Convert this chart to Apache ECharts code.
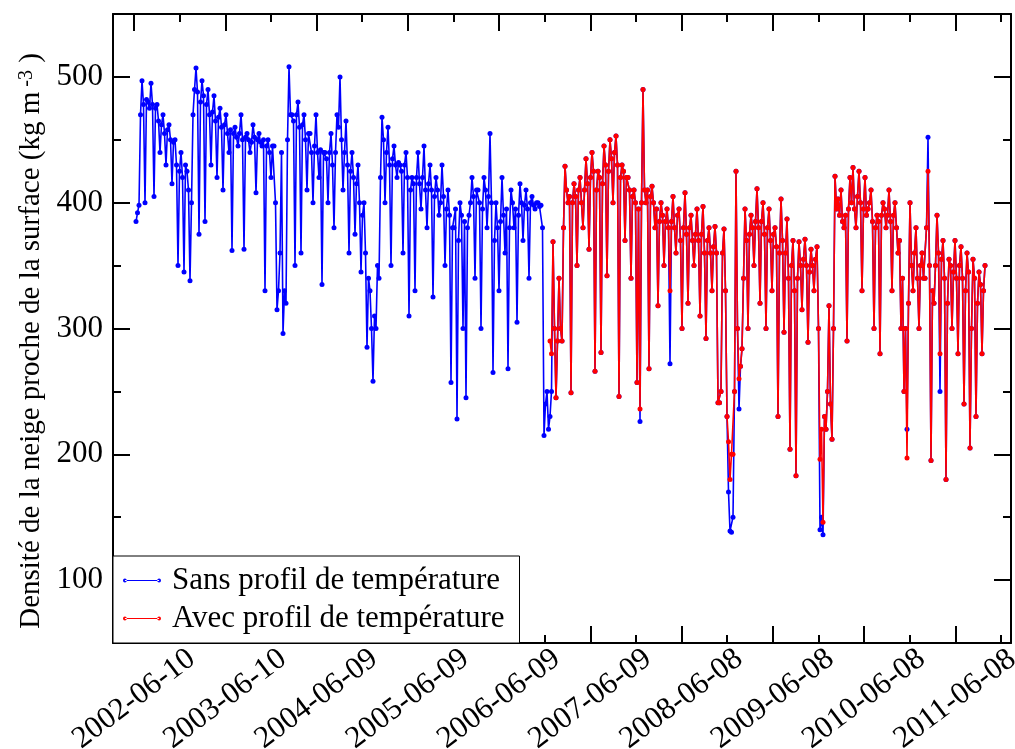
<!DOCTYPE html>
<html><head><meta charset="utf-8">
<script src="https://cdn.jsdelivr.net/npm/echarts@6/dist/echarts.min.js"></script>
<style>html,body{margin:0;padding:0;background:#fff}#c{width:1015px;height:749px}</style>
</head><body><div id="c"></div>
<script>
const tickLabels = ['2002-06-10','2003-06-10','2004-06-09','2005-06-09','2006-06-09','2007-06-09','2008-06-08','2009-06-08','2010-06-08','2011-06-08'];
const yTickLabels = [100, 200, 300, 400, 500];
const seriesNames = ['Sans profil de température', 'Avec profil de température'];
const yTitle = 'Densité de la neige proche de la surface (kg m{sup| -3} )';
const blueStart = '2002-06-18';
const redStart = '2006-12-30';
const stepDays = 6;
const blueValues = [
385,392,398,470,497,478,400,482,480,475,495,478,405,475,478,465,440,462,470,455,430,458,462,450,415,448,450,430,350,425,440,420,345,430,425,410,338,400,470,490,507,488,375,480,497,485,385,478,
490,470,430,472,485,465,420,468,475,460,410,462,470,455,440,458,362,455,460,452,445,455,470,450,363,452,455,450,440,448,462,452,408,450,455,448,445,450,330,445,450,440,420,445,445,400,315,330,360,440,296,330,320,450,508,470,470,465,350,470,480,460,360,462,470,450,410,455,
455,440,400,445,470,440,420,442,335,440,440,435,400,440,455,430,380,440,470,460,500,450,410,440,465,430,360,425,440,420,375,415,430,400,345,390,400,360,285,340,330,300,258,310,300,350,340,420,468,450,400,440,460,430,350,435,445,430,420,432,430,425,360,430,440,420,310,410,420,415,330,420,
440,415,395,420,445,410,380,415,430,410,325,405,420,410,390,400,430,405,350,395,410,390,257,380,380,395,228,370,400,390,300,385,245,380,390,400,420,405,340,410,410,400,300,395,420,410,380,405,455,400,265,370,400,380,330,385,420,390,360,395,268,380,410,400,380,395,305,390,415,400,370,398,410,395,340,400,405,398,395,400,400,397,398,380,215,240,250,220,
230,250,
369,300,245,290,340,300,290,380,429,410,400,405,249,400,415,405,350,410,420,400,380,410,435,415,363,420,440,425,266,410,425,420,281,415,445,430,342,425,450,435,400,440,453,430,246,420,430,425,370,420,420,410,340,405,410,400,257,395,226,400,490,410,400,410,268,405,413,400,380,395,318,385,400,390,350,385,395,380,272,385,
405,380,360,390,395,370,300,380,408,375,320,380,390,370,350,375,395,370,310,375,397,360,292,370,380,360,330,365,381,360,241,241,250,360,379,330,230,170,139,138,150,250,425,300,236,270,284,340,395,370,300,375,390,380,350,385,411,380,320,385,400,375,300,380,395,370,330,375,380,365,230,360,403,370,297,360,387,340,204,350,
370,330,183,340,369,350,315,355,371,350,289,345,363,350,330,355,365,300,140,150,136,230,220,250,318,240,212,300,421,395,403,390,410,385,380,390,290,395,420,400,428,395,380,405,425,400,330,395,420,390,395,400,410,385,300,380,390,385,280,390,400,395,380,390,410,385,330,390,400,380,360,370,300,340,250,300,220,320,400,350,
330,360,380,340,300,350,360,340,340,380,452,350,195,330,320,350,390,360,250,355,370,340,180,320,355,350,300,345,370,340,280,350,365,340,240,330,360,345,205,300,355,340,230,320,345,335,280,330,350
];
const redValues = [
290,280,
369,300,245,290,340,300,290,380,429,410,400,405,249,400,415,405,350,410,420,400,380,410,435,415,363,420,440,425,266,410,425,420,281,415,445,430,342,425,450,435,400,440,453,430,246,420,430,425,370,420,420,410,340,405,410,400,257,395,236,400,490,410,400,410,268,405,413,400,380,395,318,385,400,390,350,385,395,380,330,385,
405,380,360,390,395,370,300,380,408,375,320,380,390,370,350,375,395,370,310,375,397,360,292,370,380,360,330,365,381,360,241,241,250,360,379,330,230,210,180,200,200,250,425,300,260,270,284,340,395,370,300,375,390,380,350,385,411,380,320,385,400,375,300,380,395,370,330,375,380,365,230,360,403,370,297,360,387,340,204,350,
370,330,183,340,369,350,315,355,371,350,289,345,363,350,330,355,365,300,196,220,146,230,220,250,318,240,212,300,421,395,403,390,410,385,380,390,290,395,420,400,428,395,380,405,425,400,330,395,420,390,395,400,410,385,300,380,390,385,280,390,400,395,380,390,410,385,330,390,400,380,360,370,300,340,250,300,197,320,400,350,
330,360,380,340,300,350,360,340,340,380,425,350,195,330,320,350,390,360,280,355,370,340,180,320,355,350,300,345,370,340,280,350,365,340,240,330,360,345,205,300,355,340,230,320,345,335,280,330,350
];
const xMinDate = '2002-03-18';
const xMaxDate = '2012-01-17';

const DAY = 86400000;
const toMs = s => Date.parse(s + 'T00:00:00Z');
const majors = tickLabels.map(toMs);
const minors = majors.map(v => v + 182.5 * DAY);
const xMin = toMs(xMinDate), xMax = toMs(xMaxDate);
const mk = (start, vals) => vals.map((v, i) => [toMs(start) + i * stepDays * DAY, v]);
const fmtDate = v => { const idx = majors.indexOf(v); return idx >= 0 ? tickLabels[idx] : ''; };

const FONT = 'Liberation Serif';
const black = { color: '#000', width: 2 };
const xBase = { type: 'value', min: xMin, max: xMax, splitLine: { show: false }, axisLabel: { show: false }, axisLine: { show: false, onZero: false } };
const yBase = { type: 'value', min: 50, max: 550, splitLine: { show: false }, axisLabel: { show: false }, axisLine: { show: false, onZero: false } };
const yMinors = [150, 250, 350, 450];

const chart = echarts.init(document.getElementById('c'), null, { renderer: 'canvas' });
chart.setOption({
  animation: false,
  backgroundColor: '#fff',
  grid: { left: 113, right: 4, top: 14, bottom: 106, containLabel: false, outerBoundsMode: 'none' },
  legend: {
    orient: 'vertical', left: 113, bottom: 106,
    data: seriesNames,
    icon: 'path://M0,4a2,2 0 1,0 4,0a2,2 0 1,0 -4,0Z M36,4a2,2 0 1,0 4,0a2,2 0 1,0 -4,0Z M2,3.4L38,3.4L38,4.6L2,4.6Z',
    itemWidth: 38, itemHeight: 7, itemGap: 7,
    padding: [9, 15, 9, 10],
    backgroundColor: '#fff', borderColor: '#000', borderWidth: 1, borderRadius: 0,
    textStyle: { fontFamily: FONT, fontSize: 31, color: '#000', padding: [0, 0, 0, 6] }
  },
  xAxis: [
    Object.assign({}, xBase, { position: 'bottom',
      axisLine: { show: true, onZero: false, lineStyle: black },
      axisTick: { show: true, inside: true, length: 17, customValues: majors, lineStyle: black },
      axisLabel: { show: true, customValues: majors, rotate: 37, align: 'center', verticalAlign: 'middle', margin: 56,
        fontFamily: FONT, fontSize: 31, color: '#000', formatter: fmtDate, hideOverlap: false } }),
    Object.assign({}, xBase, { position: 'bottom',
      axisTick: { show: true, inside: true, length: 8, customValues: minors, lineStyle: black } }),
    Object.assign({}, xBase, { position: 'top',
      axisLine: { show: true, onZero: false, lineStyle: black },
      axisTick: { show: true, inside: true, length: 17, customValues: majors, lineStyle: black } }),
    Object.assign({}, xBase, { position: 'top',
      axisTick: { show: true, inside: true, length: 8, customValues: minors, lineStyle: black } })
  ],
  yAxis: [
    Object.assign({}, yBase, { position: 'left',
      axisLine: { show: true, onZero: false, lineStyle: black },
      axisTick: { show: true, inside: true, length: 17, customValues: yTickLabels, lineStyle: black },
      axisLabel: { show: true, customValues: yTickLabels, margin: 10, fontFamily: FONT, fontSize: 31, color: '#000' },
      name: yTitle, nameLocation: 'middle', nameGap: 64,
      nameTextStyle: { fontFamily: FONT, fontSize: 29, color: '#000', padding: [0, 25, 0, 0],
        rich: { sup: { fontFamily: FONT, fontSize: 20, color: '#000', verticalAlign: 'top' } } } }),
    Object.assign({}, yBase, { position: 'left',
      axisTick: { show: true, inside: true, length: 8, customValues: yMinors, lineStyle: black } }),
    Object.assign({}, yBase, { position: 'right',
      axisLine: { show: true, onZero: false, lineStyle: black },
      axisTick: { show: true, inside: true, length: 17, customValues: yTickLabels, lineStyle: black } }),
    Object.assign({}, yBase, { position: 'right',
      axisTick: { show: true, inside: true, length: 8, customValues: yMinors, lineStyle: black } })
  ],
  series: [
    { name: seriesNames[0], type: 'line', xAxisIndex: 0, yAxisIndex: 0, data: mk(blueStart, blueValues),
      symbol: 'circle', symbolSize: 5, showSymbol: true, showAllSymbol: true,
      lineStyle: { color: '#0000ff', width: 1.6 }, itemStyle: { color: '#0000ff' }, z: 2 },
    { name: seriesNames[1], type: 'line', xAxisIndex: 0, yAxisIndex: 0, data: mk(redStart, redValues),
      symbol: 'circle', symbolSize: 5, showSymbol: true, showAllSymbol: true,
      lineStyle: { color: '#ff0000', width: 1.6 }, itemStyle: { color: '#ff0000' }, z: 3 }
  ]
});
</script>
</body></html>
